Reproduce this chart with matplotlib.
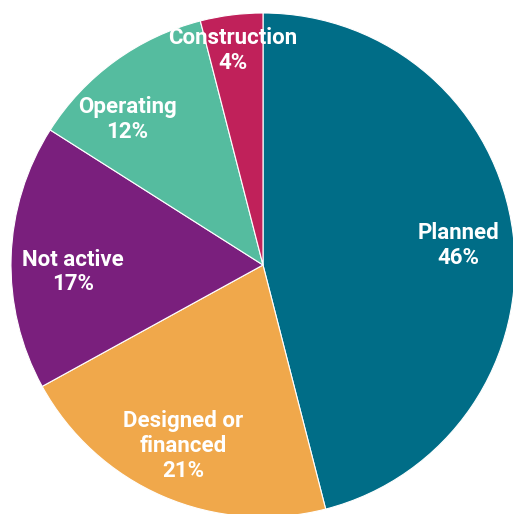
import numpy as np
import matplotlib.pyplot as plt

labels = ["Planned", "Designed or\nfinanced", "Not active", "Operating", "Construction"]
shares = [46, 21, 17, 12, 4]
colors = ["#006D87", "#F0A84B", "#7A1F7D", "#55BC9F", "#C0215A"]
# label placement: radius and angle shift from wedge middle
label_r = [0.778, 0.785, 0.755, 0.79, 0.86]
label_dang = [-1.5, -0.4, 3.9, 7.0, 0.8]

fig = plt.figure(figsize=(5.13, 5.14), dpi=100)
ax = fig.add_axes([0, 0, 1, 1])
wedges, _ = ax.pie(shares, colors=colors, startangle=90, counterclock=False,
                   wedgeprops=dict(edgecolor="white", linewidth=0.8))
for w, lab, s, r, da in zip(wedges, labels, shares, label_r, label_dang):
    ang = np.deg2rad((w.theta1 + w.theta2) / 2 + da)
    ax.text(r * np.cos(ang), r * np.sin(ang), f"{lab}\n{s}%", ha="center", va="center",
            color="white", fontsize=16, fontweight="bold", family="Roboto", linespacing=1.16)
ax.set_xlim(-263 / 252, 250 / 252)
ax.set_ylim(-249 / 252, 265 / 252)
ax.set_aspect("auto")
ax.axis("off")
fig.savefig("out.png")
